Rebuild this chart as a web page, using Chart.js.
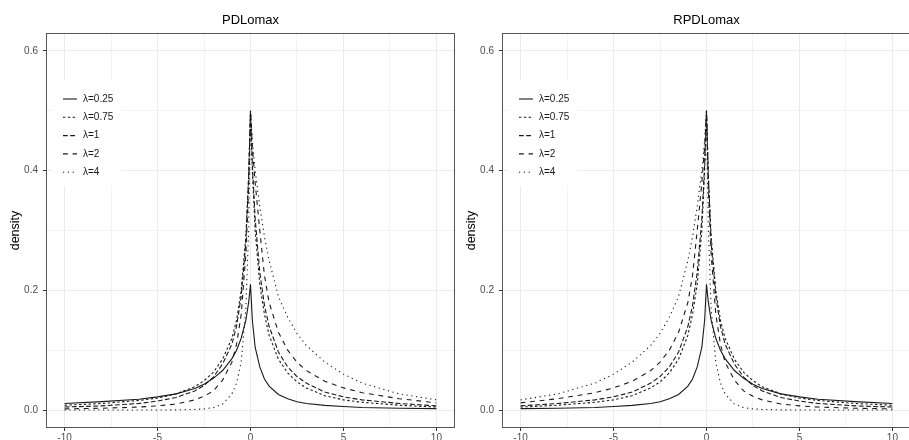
<!DOCTYPE html>
<html>
<head>
<meta charset="utf-8">
<script src="https://cdn.jsdelivr.net/npm/chart.js@4"></script>
<style>
html, body { margin: 0; padding: 0; background: #fff; overflow: hidden; }
#wrap { position: relative; width: 909px; height: 440px; overflow: hidden; }
.panel { position: absolute; top: 0; width: 456px; height: 440px; }
</style>
</head>
<body>
<div id="wrap">
  <div class="panel" style="left:0"><canvas id="c1" width="456" height="440"></canvas></div>
  <div class="panel" style="left:456px"><canvas id="c2" width="456" height="440"></canvas></div>
</div>
<script>
var xs = [-10, -8, -6, -5, -4, -3, -2.5, -2, -1.5, -1, -0.75, -0.5, -0.25, -0.1, 0,
          0.1, 0.25, 0.5, 0.75, 1, 1.5, 2, 2.5, 3, 4, 5, 6, 8, 10];

var lambdaLabels = ['λ=0.25', 'λ=0.75', 'λ=1', 'λ=2', 'λ=4'];
var panelTitles = ['PDLomax', 'RPDLomax'];

// PDLomax
var pd025 = [0.011, 0.014, 0.018, 0.022, 0.027, 0.036, 0.043, 0.053, 0.066, 0.086, 0.1, 0.12, 0.15, 0.18, 0.21,
             0.15, 0.105, 0.072, 0.052, 0.04, 0.026, 0.019, 0.014, 0.011, 0.0078, 0.006, 0.0042, 0.003, 0.0024];
var pd075 = [0.008, 0.011, 0.016, 0.02, 0.027, 0.039, 0.049, 0.063, 0.085, 0.12, 0.15, 0.2, 0.29, 0.39, 0.5,
             0.4, 0.3, 0.21, 0.16, 0.125, 0.085, 0.062, 0.047, 0.037, 0.024, 0.017, 0.013, 0.008, 0.005];
var pd1   = [0.005, 0.007, 0.011, 0.015, 0.021, 0.032, 0.041, 0.055, 0.077, 0.11, 0.14, 0.19, 0.28, 0.39, 0.5,
             0.41, 0.32, 0.23, 0.175, 0.14, 0.097, 0.072, 0.056, 0.045, 0.03, 0.022, 0.017, 0.011, 0.007];
var pd2   = [0.002, 0.003, 0.005, 0.007, 0.01, 0.017, 0.023, 0.032, 0.05, 0.08, 0.11, 0.16, 0.26, 0.37, 0.5,
             0.44, 0.38, 0.3, 0.225, 0.18, 0.13, 0.1, 0.08, 0.066, 0.048, 0.037, 0.029, 0.019, 0.012];
var pd4   = [0, 0, 0, 0, 0.0003, 0.001, 0.002, 0.004, 0.01, 0.027, 0.045, 0.08, 0.17, 0.3, 0.5,
             0.45, 0.4, 0.34, 0.29, 0.25, 0.19, 0.155, 0.128, 0.108, 0.08, 0.06, 0.045, 0.027, 0.017];

// RPDLomax
var rpd025 = [0.0024, 0.003, 0.0042, 0.006, 0.0078, 0.011, 0.014, 0.019, 0.026, 0.04, 0.052, 0.072, 0.105, 0.15, 0.21,
              0.18, 0.15, 0.12, 0.1, 0.086, 0.066, 0.053, 0.043, 0.036, 0.027, 0.022, 0.018, 0.014, 0.011];
var rpd075 = [0.005, 0.008, 0.013, 0.017, 0.024, 0.037, 0.047, 0.062, 0.085, 0.125, 0.16, 0.21, 0.3, 0.4, 0.5,
              0.39, 0.29, 0.2, 0.15, 0.12, 0.085, 0.063, 0.049, 0.039, 0.027, 0.02, 0.016, 0.011, 0.008];
var rpd1   = [0.007, 0.011, 0.017, 0.022, 0.03, 0.045, 0.056, 0.072, 0.097, 0.14, 0.175, 0.23, 0.32, 0.41, 0.5,
              0.39, 0.28, 0.19, 0.14, 0.11, 0.077, 0.055, 0.041, 0.032, 0.021, 0.015, 0.011, 0.007, 0.005];
var rpd2   = [0.012, 0.019, 0.029, 0.037, 0.048, 0.066, 0.08, 0.1, 0.13, 0.18, 0.225, 0.3, 0.38, 0.44, 0.5,
              0.37, 0.26, 0.16, 0.11, 0.08, 0.05, 0.032, 0.023, 0.017, 0.01, 0.007, 0.005, 0.003, 0.002];
var rpd4   = [0.017, 0.027, 0.045, 0.06, 0.08, 0.108, 0.128, 0.155, 0.19, 0.25, 0.29, 0.34, 0.4, 0.45, 0.5,
              0.3, 0.17, 0.08, 0.045, 0.027, 0.01, 0.004, 0.002, 0.001, 0.0003, 0, 0, 0, 0];

// axis ticks (major labelled, minor only grid)
var xTicks = [-10, -5, 0, 5, 10];
var xMinor = [-7.5, -2.5, 2.5, 7.5];
var yTicks = [0, 0.2, 0.4, 0.6];
var yMinor = [0.1, 0.3, 0.5];

// ggplot linetypes: solid, 22, 42, 44, 13
var dashes = [[], [2.4, 2.4], [4.8, 2.4], [4.8, 4.8], [1.2, 3.6]];

var FONT = '"Liberation Sans", Arial, sans-serif';

// legend box, panel border and title
const panelDeco = {
    id: 'panelDeco',
    afterDatasetsDraw: function (chart, args, opts) {
        const a = chart.chartArea, ctx = chart.ctx;
        ctx.save();
        ctx.fillStyle = '#fff';
        ctx.fillRect(a.left + 7, 80, 68, 106);
        chart.data.datasets.forEach(function (ds, i) {
            var y = 99 + i * 18.3;
            ctx.strokeStyle = ds.borderColor;
            ctx.lineWidth = ds.borderWidth;
            ctx.setLineDash(ds.borderDash);
            ctx.beginPath();
            ctx.moveTo(a.left + 17, y);
            ctx.lineTo(a.left + 31, y);
            ctx.stroke();
            ctx.setLineDash([]);
            ctx.fillStyle = '#1a1a1a';
            ctx.font = '10px ' + FONT;
            ctx.textBaseline = 'middle';
            ctx.textAlign = 'left';
            ctx.fillText(ds.label, a.left + 37, y);
        });
        ctx.strokeStyle = '#555';
        ctx.lineWidth = 1;
        ctx.strokeRect(a.left + 0.5, a.top + 0.5, a.right - a.left - 1, a.bottom - a.top - 1);
        ctx.fillStyle = '#000';
        ctx.font = '13px ' + FONT;
        ctx.textAlign = 'center';
        ctx.textBaseline = 'middle';
        ctx.fillText(opts.text, (a.left + a.right) / 2, 20);
        ctx.restore();
    }
};

function toPoints(vals) {
    return vals.map(function (v, i) { return {x: xs[i], y: v}; });
}

function makeChart(id, title, series) {
    var datasets = series.map(function (vals, i) {
        return {
            label: lambdaLabels[i],
            data: toPoints(vals),
            borderColor: '#1a1a1a',
            borderWidth: 1.1,
            borderDash: dashes[i],
            pointRadius: 0,
            tension: 0,
            fill: false
        };
    });

    var ctx = document.getElementById(id).getContext('2d');
    return new Chart(ctx, {
        type: 'line',
        data: {datasets: datasets},
        plugins: [panelDeco],
        options: {
            responsive: false,
            animation: false,
            layout: {padding: {top: 33, left: 0, right: 1, bottom: 0}},
            plugins: {
                legend: {display: false},
                tooltip: {enabled: false},
                panelDeco: {text: title}
            },
            scales: {
                x: {
                    type: 'linear',
                    min: -11,
                    max: 11,
                    afterBuildTicks: function (axis) {
                        axis.ticks = xTicks.concat(xMinor).sort(function (a, b) { return a - b; })
                            .map(function (v) { return {value: v}; });
                    },
                    afterFit: function (axis) { axis.height = 12; },
                    border: {display: false},
                    grid: {
                        color: function (c) { return xTicks.indexOf(c.tick.value) >= 0 ? '#ebebeb' : '#f3f3f3'; },
                        tickColor: function (c) { return xTicks.indexOf(c.tick.value) >= 0 ? '#333' : 'rgba(0,0,0,0)'; },
                        tickLength: 3,
                        lineWidth: 1
                    },
                    ticks: {
                        autoSkip: false,
                        maxRotation: 0,
                        padding: 1,
                        color: '#4d4d4d',
                        font: {family: FONT, size: 10},
                        callback: function (v) { return xTicks.indexOf(v) >= 0 ? String(v) : ''; }
                    }
                },
                y: {
                    type: 'linear',
                    min: -0.03,
                    max: 0.63,
                    afterBuildTicks: function (axis) {
                        axis.ticks = yTicks.concat(yMinor).sort(function (a, b) { return a - b; })
                            .map(function (v) { return {value: v}; });
                    },
                    afterFit: function (axis) { axis.width = 46; },
                    border: {display: false},
                    grid: {
                        color: function (c) { return yTicks.indexOf(c.tick.value) >= 0 ? '#ebebeb' : '#f3f3f3'; },
                        tickColor: function (c) { return yTicks.indexOf(c.tick.value) >= 0 ? '#333' : 'rgba(0,0,0,0)'; },
                        tickLength: 3,
                        lineWidth: 1
                    },
                    ticks: {
                        autoSkip: false,
                        padding: 5,
                        color: '#4d4d4d',
                        font: {family: FONT, size: 10},
                        callback: function (v) { return yTicks.indexOf(v) >= 0 ? v.toFixed(1) : ''; }
                    },
                    title: {
                        display: true,
                        text: 'density',
                        color: '#000',
                        padding: {top: 8, bottom: 0},
                        font: {family: FONT, size: 12.5}
                    }
                }
            }
        }
    });
}

makeChart('c1', panelTitles[0], [pd025, pd075, pd1, pd2, pd4]);
makeChart('c2', panelTitles[1], [rpd025, rpd075, rpd1, rpd2, rpd4]);
</script>
</body>
</html>
